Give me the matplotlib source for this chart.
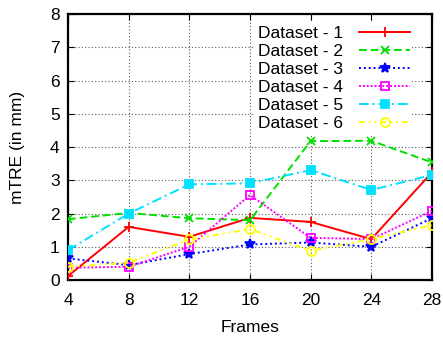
import matplotlib
matplotlib.use("Agg")
import matplotlib.pyplot as plt

frames = [4, 8, 12, 16, 20, 24, 28]
ds1 = [0.12, 1.60, 1.30, 1.87, 1.75, 1.23, 3.24]
ds2 = [1.83, 2.02, 1.86, 1.80, 4.18, 4.19, 3.54]
ds3 = [0.65, 0.45, 0.78, 1.07, 1.13, 1.00, 1.86]
ds4 = [0.37, 0.40, 1.00, 2.56, 1.27, 1.23, 2.08]
ds5 = [0.90, 2.00, 2.88, 2.91, 3.31, 2.71, 3.16]
ds6 = [0.40, 0.52, 1.22, 1.53, 0.88, 1.23, 1.65]
labels = ["Dataset - 1", "Dataset - 2", "Dataset - 3",
          "Dataset - 4", "Dataset - 5", "Dataset - 6"]

plt.rcParams['font.family'] = ['Liberation Sans', 'DejaVu Sans']
plt.rcParams['font.size'] = 12.5

fig = plt.figure(figsize=(4.43, 3.37), dpi=100)
ax = fig.add_axes([0.1535, 0.169, 0.8215, 0.789])

styles = [
    dict(color='#ff0000', ls='-', marker='+', ms=7, mfc='none'),
    dict(color='#00e000', ls=(0, (4, 2)), marker='x', ms=5.5, mfc='none'),
    dict(color='#0000ff', ls=(0, (1, 1.5)), marker='*', ms=7),
    dict(color='#ff00ff', ls=(0, (1, 1)), marker='s', ms=5.5, mfc='none'),
    dict(color='#00e0ff', ls=(0, (5, 2, 1, 2)), marker='s', ms=5.5),
    dict(color='#ffff00', ls=(0, (3, 2, 1, 2, 1, 2)), marker='o', ms=6.5, mfc='none'),
]
for ys, lab, st in zip([ds1, ds2, ds3, ds4, ds5, ds6], labels, styles):
    ax.plot(frames, ys, label=lab, lw=1.4, mew=1.3, color=st['color'],
            ls=st['ls'], marker=st['marker'], ms=st['ms'],
            mfc=st.get('mfc', st['color']), zorder=3)

ax.set_xlim(4, 28)
ax.set_ylim(0, 8)
ax.set_xticks(frames)
ax.set_yticks(range(0, 9))
ax.grid(True, color='0.35', ls=(0, (1, 2)), lw=0.8)
ax.tick_params(direction='in', length=4, top=True, right=True, width=0.8, pad=6)
ax.tick_params(axis='x', pad=9)
for s in ax.spines.values():
    s.set_linewidth(1.6)
ax.set_xlabel("Frames", labelpad=9)
ax.set_ylabel("mTRE (in mm)", labelpad=18)

leg = ax.legend(loc='upper right', bbox_to_anchor=(0.97, 1.0), markerfirst=False,
                frameon=True, fancybox=False, framealpha=1, edgecolor='none',
                handlelength=2.9, labelspacing=0.17, borderpad=0.15,
                handletextpad=0.95, fontsize=12.5)
leg.set_zorder(5)

fig.savefig("out.png", dpi=100)
